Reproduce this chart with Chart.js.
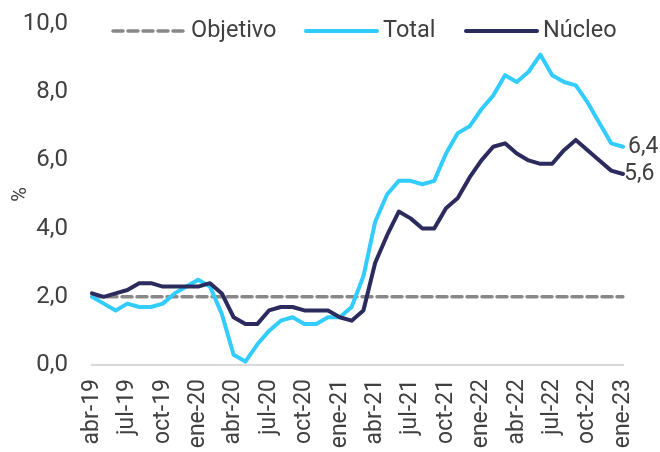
<!DOCTYPE html>
<html>
<head>
<meta charset="utf-8">
<script src="https://cdn.jsdelivr.net/npm/chart.js@4.4.0/dist/chart.umd.min.js"></script>
<style>
  html, body { margin: 0; padding: 0; background: #fff; }
</style>
</head>
<body>
<canvas id="inflacion" width="660" height="452"></canvas>
<script>
// meses (abr-19 .. ene-23)
const meses = [
  'abr-19','may-19','jun-19','jul-19','ago-19','sep-19','oct-19','nov-19','dic-19',
  'ene-20','feb-20','mar-20','abr-20','may-20','jun-20','jul-20','ago-20','sep-20','oct-20','nov-20','dic-20',
  'ene-21','feb-21','mar-21','abr-21','may-21','jun-21','jul-21','ago-21','sep-21','oct-21','nov-21','dic-21',
  'ene-22','feb-22','mar-22','abr-22','may-22','jun-22','jul-22','ago-22','sep-22','oct-22','nov-22','dic-22',
  'ene-23'
];

const total = [
  2.0, 1.8, 1.6, 1.8, 1.7, 1.7, 1.8, 2.1, 2.3,
  2.5, 2.3, 1.5, 0.3, 0.1, 0.6, 1.0, 1.3, 1.4, 1.2, 1.2, 1.4,
  1.4, 1.7, 2.6, 4.2, 5.0, 5.4, 5.4, 5.3, 5.4, 6.2, 6.8, 7.0,
  7.5, 7.9, 8.5, 8.3, 8.6, 9.1, 8.5, 8.3, 8.2, 7.7, 7.1, 6.5,
  6.4
];

const nucleo = [
  2.1, 2.0, 2.1, 2.2, 2.4, 2.4, 2.3, 2.3, 2.3,
  2.3, 2.4, 2.1, 1.4, 1.2, 1.2, 1.6, 1.7, 1.7, 1.6, 1.6, 1.6,
  1.4, 1.3, 1.6, 3.0, 3.8, 4.5, 4.3, 4.0, 4.0, 4.6, 4.9, 5.5,
  6.0, 6.4, 6.5, 6.2, 6.0, 5.9, 5.9, 6.3, 6.6, 6.3, 6.0, 5.7,
  5.6
];

const objetivo = [
  2.0, 2.0, 2.0, 2.0, 2.0, 2.0, 2.0, 2.0, 2.0,
  2.0, 2.0, 2.0, 2.0, 2.0, 2.0, 2.0, 2.0, 2.0, 2.0, 2.0, 2.0,
  2.0, 2.0, 2.0, 2.0, 2.0, 2.0, 2.0, 2.0, 2.0, 2.0, 2.0, 2.0,
  2.0, 2.0, 2.0, 2.0, 2.0, 2.0, 2.0, 2.0, 2.0, 2.0, 2.0, 2.0,
  2.0
];

const textColor = '#404040';
const fmt = v => v.toFixed(1).replace('.', ',');

Chart.defaults.font.family = 'Roboto';
Chart.defaults.color = textColor;

// leyenda dibujada dentro del area del grafico
const leyenda = {
  id: 'leyenda',
  afterDraw(chart) {
    const c = chart.ctx;
    const y = 31;
    const items = [
      { x1: 113, x2: 184, tx: 191, text: 'Objetivo', color: '#888888', dash: [10, 5], w: 3.5 },
      { x1: 306, x2: 377, tx: 383, text: 'Total', color: '#33CCFF', dash: [], w: 4 },
      { x1: 466, x2: 537, tx: 543, text: 'Núcleo', color: '#2B2B5E', dash: [], w: 4 }
    ];
    c.save();
    c.font = '23.5px Roboto';
    c.textBaseline = 'middle';
    items.forEach(it => {
      c.beginPath();
      c.setLineDash(it.dash);
      c.lineWidth = it.w;
      c.lineCap = 'round';
      c.strokeStyle = it.color;
      c.moveTo(it.x1, y);
      c.lineTo(it.x2, y);
      c.stroke();
      c.fillStyle = textColor;
      c.fillText(it.text, it.tx, y);
    });
    c.restore();
  }
};

// etiquetas del ultimo dato
const ultimoDato = {
  id: 'ultimoDato',
  afterDatasetsDraw(chart) {
    const c = chart.ctx;
    c.save();
    c.font = '23px Roboto';
    c.textBaseline = 'middle';
    c.fillStyle = textColor;
    [[1, 5], [2, 1]].forEach(([i, dx]) => {
      const pts = chart.getDatasetMeta(i).data;
      const p = pts[pts.length - 1];
      const v = chart.data.datasets[i].data[pts.length - 1];
      c.fillText(fmt(v), p.x + dx, p.y);
    });
    c.restore();
  }
};

new Chart(document.getElementById('inflacion'), {
  type: 'line',
  data: {
    labels: meses,
    datasets: [
      { label: 'Objetivo', data: objetivo, borderColor: '#888888', borderWidth: 3.5, borderDash: [10, 5], order: 3 },
      { label: 'Total', data: total, borderColor: '#33CCFF', borderWidth: 4, order: 2 },
      { label: 'Núcleo', data: nucleo, borderColor: '#2B2B5E', borderWidth: 4, order: 1 }
    ]
  },
  options: {
    responsive: false,
    animation: false,
    devicePixelRatio: 1,
    layout: { padding: { top: 24, right: 37, left: 0, bottom: 0 } },
    elements: {
      point: { radius: 0 },
      line: { tension: 0, borderJoinStyle: 'round', borderCapStyle: 'round' }
    },
    plugins: {
      legend: { display: false },
      tooltip: { enabled: false }
    },
    scales: {
      x: {
        grid: { display: false, drawTicks: false },
        border: { color: '#D9D9D9', width: 2 },
        ticks: {
          autoSkip: false,
          minRotation: 90,
          maxRotation: 90,
          padding: 14,
          font: { size: 23 },
          callback: (v, i) => (i % 3 === 0 ? meses[i] : '')
        },
        afterFit: s => { s.height = 87; s.paddingLeft = 0; s.paddingRight = 0; }
      },
      y: {
        min: 0,
        max: 10,
        grid: { display: false, drawTicks: false },
        border: { display: false },
        ticks: { stepSize: 2, padding: 24, font: { size: 24 }, callback: v => fmt(v) },
        title: { display: true, text: '%', font: { size: 20 }, padding: { top: 9, bottom: 0 } },
        afterFit: s => { s.width = 92; s.paddingTop = 0; s.paddingBottom = 0; }
      }
    }
  },
  plugins: [leyenda, ultimoDato]
});
</script>
</body>
</html>
